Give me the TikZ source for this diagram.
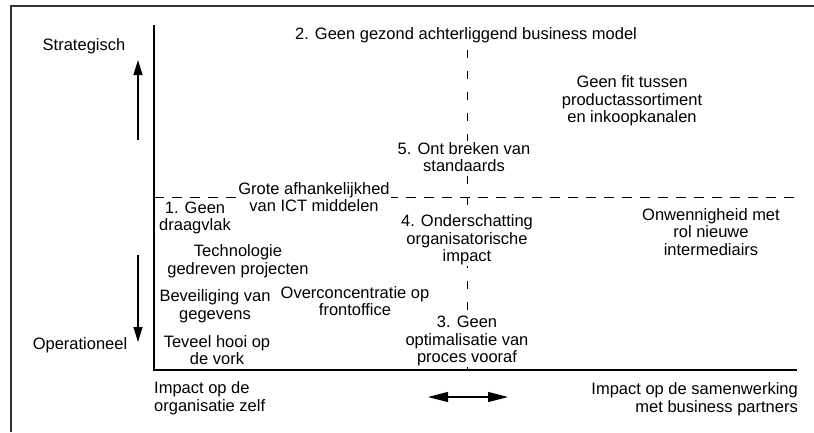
\documentclass[tikz,border=0pt]{standalone}
\usepackage{fontspec}
\setmainfont{Liberation Sans}
\usetikzlibrary{arrows.meta}
\begin{document}
\begin{tikzpicture}[x=1pt,y=-1pt,
  lbl/.style={fill=white,inner sep=1pt,align=center,
    font=\fontsize{16.5}{17.5}\selectfont},
  axis/.style={line width=1.3pt,black},
  grid/.style={line width=1pt,dash pattern=on 10pt off 8pt},
  vgrid/.style={line width=1pt,dash pattern=on 8pt off 13pt},
  arr/.style={line width=1.3pt,-{Triangle[length=15pt,width=9pt]}},
  darr/.style={line width=1.3pt,{Triangle[length=20pt,width=10pt]}-{Triangle[length=20pt,width=10pt]}}]
\useasboundingbox (0,0) rectangle (814,432);
% outer frame (left and top edges)
\coordinate (fl) at (11,432);
\coordinate (fc) at (11,6);
\coordinate (fr) at (814,6);
\draw[line width=1.4pt,black!80] (fl) -- (fc) -- (fr);
% axes
\coordinate (yt) at (154,25);
\coordinate (o) at (154,370);
\coordinate (xr) at (797,370);
\draw[axis] (yt) -- (o) -- (xr);
% quadrant separators
\coordinate (hl) at (154,197);
\coordinate (hr) at (797,197);
\coordinate (vt) at (467,50);
\coordinate (vb) at (467,370);
\draw[grid] (hl) -- (hr);
\draw[vgrid] (vt) -- (vb);
% direction arrows
\coordinate (ua) at (138,140);
\coordinate (ub) at (138,60);
\coordinate (da) at (138,255);
\coordinate (db) at (138,342);
\coordinate (la) at (428,397);
\coordinate (lb) at (508,397);
\draw[arr] (ua) -- (ub);
\draw[arr] (da) -- (db);
\draw[darr] (la) -- (lb);
% axis labels
\node[lbl] (strat) at (84,46) {Strategisch};
\node[lbl] (oper) at (80,345) {Operationeel};
\node[lbl,align=left,anchor=west] (impl) at (153,398) {Impact op de\\organisatie zelf};
\node[lbl,align=right,anchor=east] (impr) at (799,399) {Impact op de samenwerking\\met business partners};
% risk items
\node[lbl] (n2) at (466,35) {2. Geen gezond achterliggend business model};
\node[lbl] (fit) at (632,101) {Geen fit tussen\\productassortiment\\en inkoopkanalen};
\node[lbl] (n5) at (464,157) {5. Ont breken van\\standaards};
\node[lbl] (grote) at (314,197) {Grote afhankelijkhed\\van ICT middelen};
\node[lbl] (n1) at (195,218) {1. Geen\\draagvlak};
\node[lbl] (tech) at (238,261) {Technologie\\gedreven projecten};
\node[lbl] (bev) at (215,306) {Beveiliging van\\gegevens};
\node[lbl] (over) at (355,301) {Overconcentratie op\\frontoffice};
\node[lbl] (teveel) at (217,350) {Teveel hooi op\\de vork};
\node[lbl] (n4) at (467,240) {4. Onderschatting\\organisatorische\\impact};
\node[lbl] (n3) at (467,341) {3. Geen\\optimalisatie van\\proces vooraf};
\node[lbl] (onw) at (711,232) {Onwennigheid met\\rol nieuwe\\intermediairs};
\end{tikzpicture}
\end{document}
